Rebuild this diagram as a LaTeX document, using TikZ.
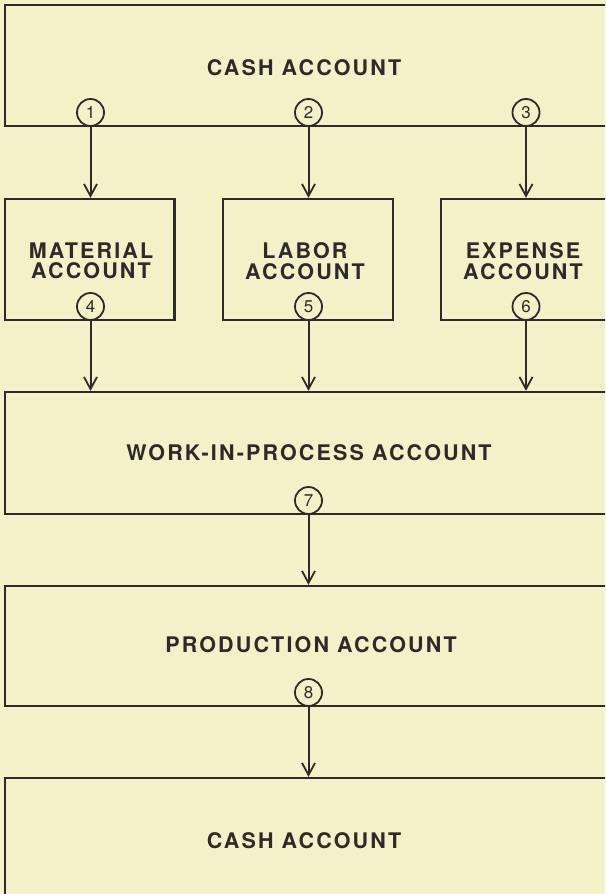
\documentclass[tikz,border=0pt]{standalone}
\usepackage{fontspec}
\usetikzlibrary{arrows.meta}
\newfontfamily\labfont{TeX Gyre Heros}[LetterSpace=10]
\newfontfamily\numfont{TeX Gyre Heros}
\definecolor{bg}{HTML}{F4F1C8}
\definecolor{ink}{HTML}{2E2A2A}
\begin{document}
\begin{tikzpicture}[x=1pt,y=-1pt,
  box/.style={draw=ink, line width=2.3pt, rectangle, inner sep=0pt},
  num/.style={draw=ink, circle, line width=1.8pt, minimum size=27pt, inner sep=0pt, fill=bg, text=ink, font=\numfont\fontsize{17}{17}\selectfont},
  lbl/.style={text=ink, font=\labfont\bfseries\fontsize{21.5}{20.5}\selectfont, align=center, inner sep=0pt},
  arr/.style={draw=ink, line width=2pt, -{Straight Barb[length=12pt,width=13pt,line width=1.8pt]}}]
\useasboundingbox (0,0) rectangle (605,894);
\fill[bg] (0,0) rectangle (605,894);
\clip (0,0) rectangle (605,894);
% boxes
\node[box, minimum width=635pt, minimum height=121pt] (cashtop) at (322.5,65.5) {};
\node[box, minimum width=169.5pt, minimum height=121pt] (mat) at (89.75,259.5) {};
\node[box, minimum width=170pt, minimum height=121pt] (lab) at (308,259.5) {};
\node[box, minimum width=199pt, minimum height=121pt] (exp) at (540.5,259.5) {};
\node[box, minimum width=635pt, minimum height=122pt] (wip) at (322.5,453) {};
\node[box, minimum width=635pt, minimum height=120pt] (prod) at (322.5,646) {};
\node[box, minimum width=635pt, minimum height=182pt] (cashbot) at (322.5,869) {};
% labels
\node[lbl] (tcashtop) at (304,68) {CASH ACCOUNT};
\node[lbl] (tmat) at (91,261) {MATERIAL\\ACCOUNT};
\node[lbl] (tlab) at (305,261) {LABOR\\ACCOUNT};
\node[lbl] (texp) at (523,261) {EXPENSE\\ACCOUNT};
\node[lbl] (twip) at (309,453) {WORK-IN-PROCESS ACCOUNT};
\node[lbl] (tprod) at (311,645) {PRODUCTION ACCOUNT};
\node[lbl] (tcashbot) at (304,841) {CASH ACCOUNT};
% numbered circles
\node[num] (c1) at (90.5,112.5) {1};
\node[num] (c2) at (308.5,112.5) {2};
\node[num] (c3) at (526,112.5) {3};
\node[num] (c4) at (90.5,306.5) {4};
\node[num] (c5) at (308.5,306.5) {5};
\node[num] (c6) at (526,306.5) {6};
\node[num] (c7) at (308.5,500.5) {7};
\node[num] (c8) at (308.5,692.5) {8};
% connectors
\draw[arr] (c1.south) -- (c1.south |- mat.north);
\draw[arr] (c2.south) -- (c2.south |- lab.north);
\draw[arr] (c3.south) -- (c3.south |- exp.north);
\draw[arr] (c4.south) -- (c4.south |- wip.north);
\draw[arr] (c5.south) -- (c5.south |- wip.north);
\draw[arr] (c6.south) -- (c6.south |- wip.north);
\draw[arr] (c7.south) -- (c7.south |- prod.north);
\draw[arr] (c8.south) -- (c8.south |- cashbot.north);
\end{tikzpicture}
\end{document}
